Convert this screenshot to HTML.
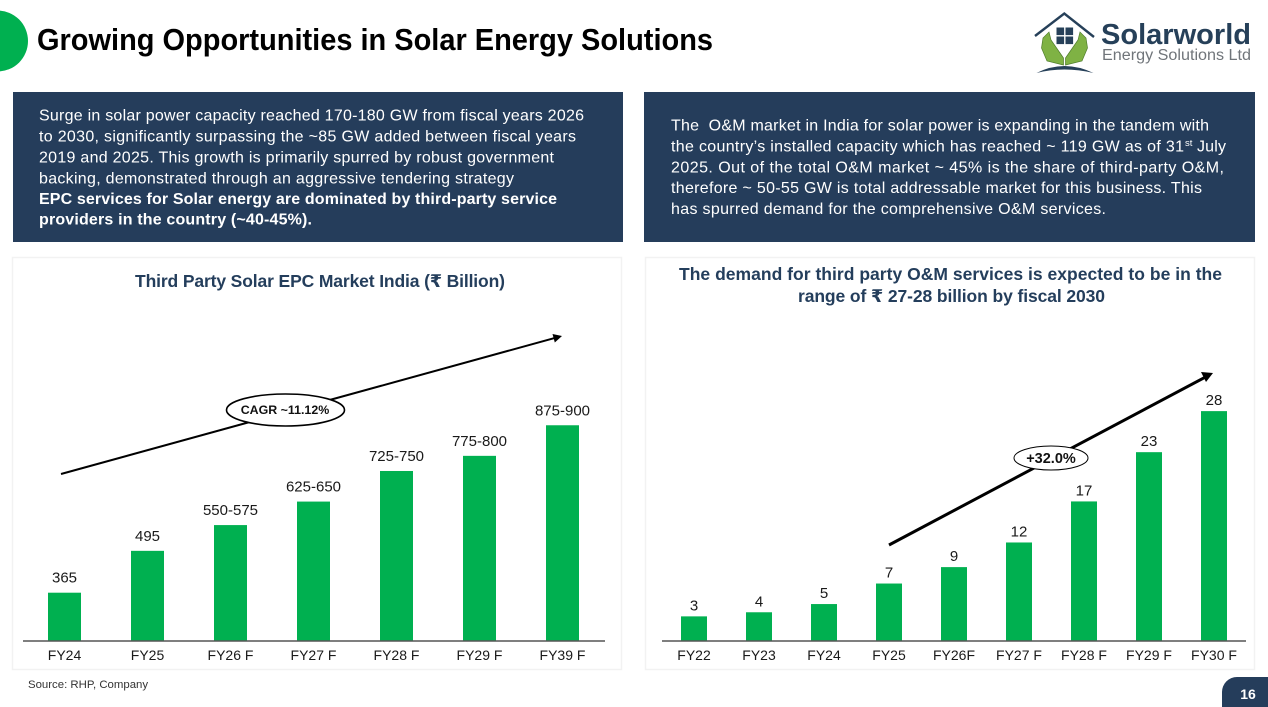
<!DOCTYPE html>
<html lang="en">
<head>
<meta charset="utf-8">
<title>Growing Opportunities in Solar Energy Solutions</title>
<style>
html,body{margin:0;padding:0;background:#fff;width:1268px;height:707px;overflow:hidden}
svg{display:block}
text{font-family:"Liberation Sans","DejaVu Sans",sans-serif}
.para{font-size:16px;fill:#fff}
.parab{font-size:16px;fill:#fff;font-weight:700}
.ctitle{font-size:17.5px;font-weight:700;fill:#243e5c}
.val{font-size:15px;fill:#1a1a1a;text-anchor:middle}
.cat{font-size:14px;fill:#1a1a1a;text-anchor:middle}
</style>
</head>
<body>
<svg id="slide" width="1268" height="707" viewBox="0 0 1268 707" xmlns="http://www.w3.org/2000/svg">
  <rect x="0" y="0" width="1268" height="707" fill="#fff"/>
  <circle cx="-2.5" cy="41" r="30.5" fill="#00b050"/>
  <text x="37" y="50" font-size="30.5" font-weight="700" fill="#000" textLength="676" lengthAdjust="spacingAndGlyphs">Growing Opportunities in Solar Energy Solutions</text>

  <g>
    <polyline points="1035,36 1064.3,13.5 1094,37" fill="none" stroke="#264059" stroke-width="2.4"/>
    <rect x="1056.5" y="27.5" width="7.6" height="7.6" fill="#264059"/>
    <rect x="1065.5" y="27.5" width="7.6" height="7.6" fill="#264059"/>
    <rect x="1056.5" y="36.5" width="7.6" height="7.6" fill="#264059"/>
    <rect x="1065.5" y="36.5" width="7.6" height="7.6" fill="#264059"/>
    <polygon points="1043,38 1049,32 1051,40 1063.5,58 1063.5,65 1047,61 1041.5,48" fill="#7fb244" stroke="#4f7d2c" stroke-width="0.7"/>
    <polygon points="1086,38 1080,32 1078,40 1065.5,58 1065.5,65 1082,61 1087.5,48" fill="#7fb244" stroke="#4f7d2c" stroke-width="0.7"/>
    <path d="M1036.5,73 Q1064,59 1093.5,73 Q1064,66 1036.5,73 Z" fill="#264059"/>
    <text x="1101" y="44" font-size="29" font-weight="700" fill="#264059" textLength="150" lengthAdjust="spacingAndGlyphs">Solarworld</text>
    <text x="1102" y="60" font-size="15.5" fill="#70757a" textLength="149" lengthAdjust="spacingAndGlyphs">Energy Solutions Ltd</text>
  </g>

  <g>
    <rect x="13" y="92" width="610" height="150" fill="#253d5b"/>
    <text class="para" x="39" y="120.5" textLength="545" lengthAdjust="spacing">Surge in solar power capacity reached 170-180 GW from fiscal years 2026</text>
    <text class="para" x="39" y="141.5" textLength="537" lengthAdjust="spacing">to 2030, significantly surpassing the ~85 GW added between fiscal years</text>
    <text class="para" x="39" y="162.5" textLength="515" lengthAdjust="spacing">2019 and 2025. This growth is primarily spurred by robust government</text>
    <text class="para" x="39" y="183.5" textLength="475" lengthAdjust="spacing">backing, demonstrated through an aggressive tendering strategy</text>
    <text class="parab" x="39" y="204" textLength="518" lengthAdjust="spacing">EPC services for Solar energy are dominated by third-party service</text>
    <text class="parab" x="39" y="224.5" textLength="273" lengthAdjust="spacing">providers in the country (~40-45%).</text>
  </g>

  <g>
    <rect x="644" y="92" width="611" height="150" fill="#253d5b"/>
    <text class="para" x="671" y="130.5" textLength="538" lengthAdjust="spacing" xml:space="preserve">The  O&amp;M market in India for solar power is expanding in the tandem with</text>
    <text class="para" x="671" y="151.5" textLength="513" lengthAdjust="spacing">the country’s installed capacity which has reached ~ 119 GW as of 31</text>
    <text x="1185" y="146" font-size="9.5" fill="#fff">st</text>
    <text class="para" x="1197" y="151.5" textLength="29" lengthAdjust="spacing">July</text>
    <text class="para" x="671" y="172.5" textLength="553" lengthAdjust="spacing">2025. Out of the total O&amp;M market ~ 45% is the share of third-party O&amp;M,</text>
    <text class="para" x="671" y="193" textLength="531" lengthAdjust="spacing">therefore ~ 50-55 GW is total addressable market for this business. This</text>
    <text class="para" x="671" y="214" textLength="435" lengthAdjust="spacing">has spurred demand for the comprehensive O&amp;M services.</text>
  </g>

  <rect x="12.5" y="257.5" width="609" height="412" fill="#fff" stroke="#f2f2f2" stroke-width="1.5"/>
  <rect x="645.5" y="257.5" width="609" height="412" fill="#fff" stroke="#f2f2f2" stroke-width="1.5"/>

  <text class="ctitle" x="135" y="287" textLength="370" lengthAdjust="spacing">Third Party Solar EPC Market India (₹ Billion)</text>
  <text class="ctitle" x="679" y="280" textLength="543" lengthAdjust="spacing">The demand for third party O&amp;M services is expected to be in the</text>
  <text class="ctitle" x="798" y="302" textLength="307" lengthAdjust="spacing">range of ₹ 27-28 billion by fiscal 2030</text>

  <g id="epc-chart"></g>
  <g id="om-chart"></g>

  <g>
    <line x1="61" y1="474" x2="554" y2="338.2" stroke="#000" stroke-width="2"/>
    <polygon points="562,336 552.5,334 554.8,342.5" fill="#000"/>
    <ellipse cx="285.5" cy="410" rx="59" ry="16" fill="#fff" stroke="#000" stroke-width="1.6"/>
    <text x="285" y="414" font-size="12.4" font-weight="700" fill="#111" text-anchor="middle">CAGR ~11.12%</text>
  </g>
  <g>
    <line x1="889" y1="545" x2="1205" y2="377.3" stroke="#000" stroke-width="3"/>
    <polygon points="1213,373 1201,372 1206,382" fill="#000"/>
    <ellipse cx="1051" cy="458" rx="37" ry="12" fill="#fff" stroke="#000" stroke-width="1"/>
    <text x="1051" y="463" font-size="14.5" font-weight="700" fill="#111" text-anchor="middle">+32.0%</text>
  </g>

  <text x="28" y="688" font-size="11.4" fill="#333">Source: RHP, Company</text>
  <path d="M1268,677 H1237 A15,15 0 0 0 1222,692 V707 H1268 Z" fill="#253d5b"/>
  <text x="1248" y="699" font-size="14" font-weight="700" fill="#fff" text-anchor="middle">16</text>
</svg>

<script>
var epcCategories = ["FY24", "FY25", "FY26 F", "FY27 F", "FY28 F", "FY29 F", "FY39 F"];
var epcLabels = ["365", "495", "550-575", "625-650", "725-750", "775-800", "875-900"];
var epcValues = [365, 495, 575, 648, 743, 790, 885];

var omCategories = ["FY22", "FY23", "FY24", "FY25", "FY26F", "FY27 F", "FY28 F", "FY29 F", "FY30 F"];
var omLabels = ["3", "4", "5", "7", "9", "12", "17", "23", "28"];
var omValues = [3, 3.5, 4.5, 7, 9, 12, 17, 23, 28];

var SVG_NS = "http://www.w3.org/2000/svg";
var BASELINE = 641;

function epcY(v) { return BASELINE - (v - 215) * 0.322; }
function epcX(i) { return 64.5 + i * 83; }
function omY(v) { return BASELINE - v * 8.21; }
function omX(i) { return 694 + i * 65; }

function drawAxis(parent, x1, x2) {
  var axis = document.createElementNS(SVG_NS, "line");
  
  
  axis.setAttribute("x1", x1);
  axis.setAttribute("x2", x2);
  axis.setAttribute("y1", BASELINE);
  axis.setAttribute("y2", BASELINE);
  axis.setAttribute("stroke", "#555");
  axis.setAttribute("stroke-width", "1.5");
  parent.appendChild(axis);
}

function drawBars(parent, values, labels, categories, xFn, yFn, barWidth, labelGap) {
  for (var i = 0; i < values.length; i++) {
    var top = yFn(values[i]);
    var cx = xFn(i);

    var bar = document.createElementNS(SVG_NS, "rect");
    
    
    bar.setAttribute("x", cx - barWidth / 2);
    bar.setAttribute("y", top);
    bar.setAttribute("width", barWidth);
    bar.setAttribute("height", BASELINE - top);
    bar.setAttribute("fill", "#00b050");
    parent.appendChild(bar);

    var val = document.createElementNS(SVG_NS, "text");
    
    
    val.setAttribute("class", "val");
    val.setAttribute("x", cx);
    val.setAttribute("y", top - labelGap);
    val.textContent = labels[i];
    parent.appendChild(val);

    var cat = document.createElementNS(SVG_NS, "text");
    
    
    cat.setAttribute("class", "cat");
    cat.setAttribute("x", cx);
    cat.setAttribute("y", 660);
    cat.textContent = categories[i];
    parent.appendChild(cat);
  }
}

var epcGroup = document.getElementById("epc-chart");
var omGroup = document.getElementById("om-chart");
drawBars(epcGroup, epcValues, epcLabels, epcCategories, epcX, epcY, 33, 10);
drawAxis(epcGroup, 23, 605);
drawBars(omGroup, omValues, omLabels, omCategories, omX, omY, 26, 6);
drawAxis(omGroup, 662, 1246);
</script>
</body>
</html>
